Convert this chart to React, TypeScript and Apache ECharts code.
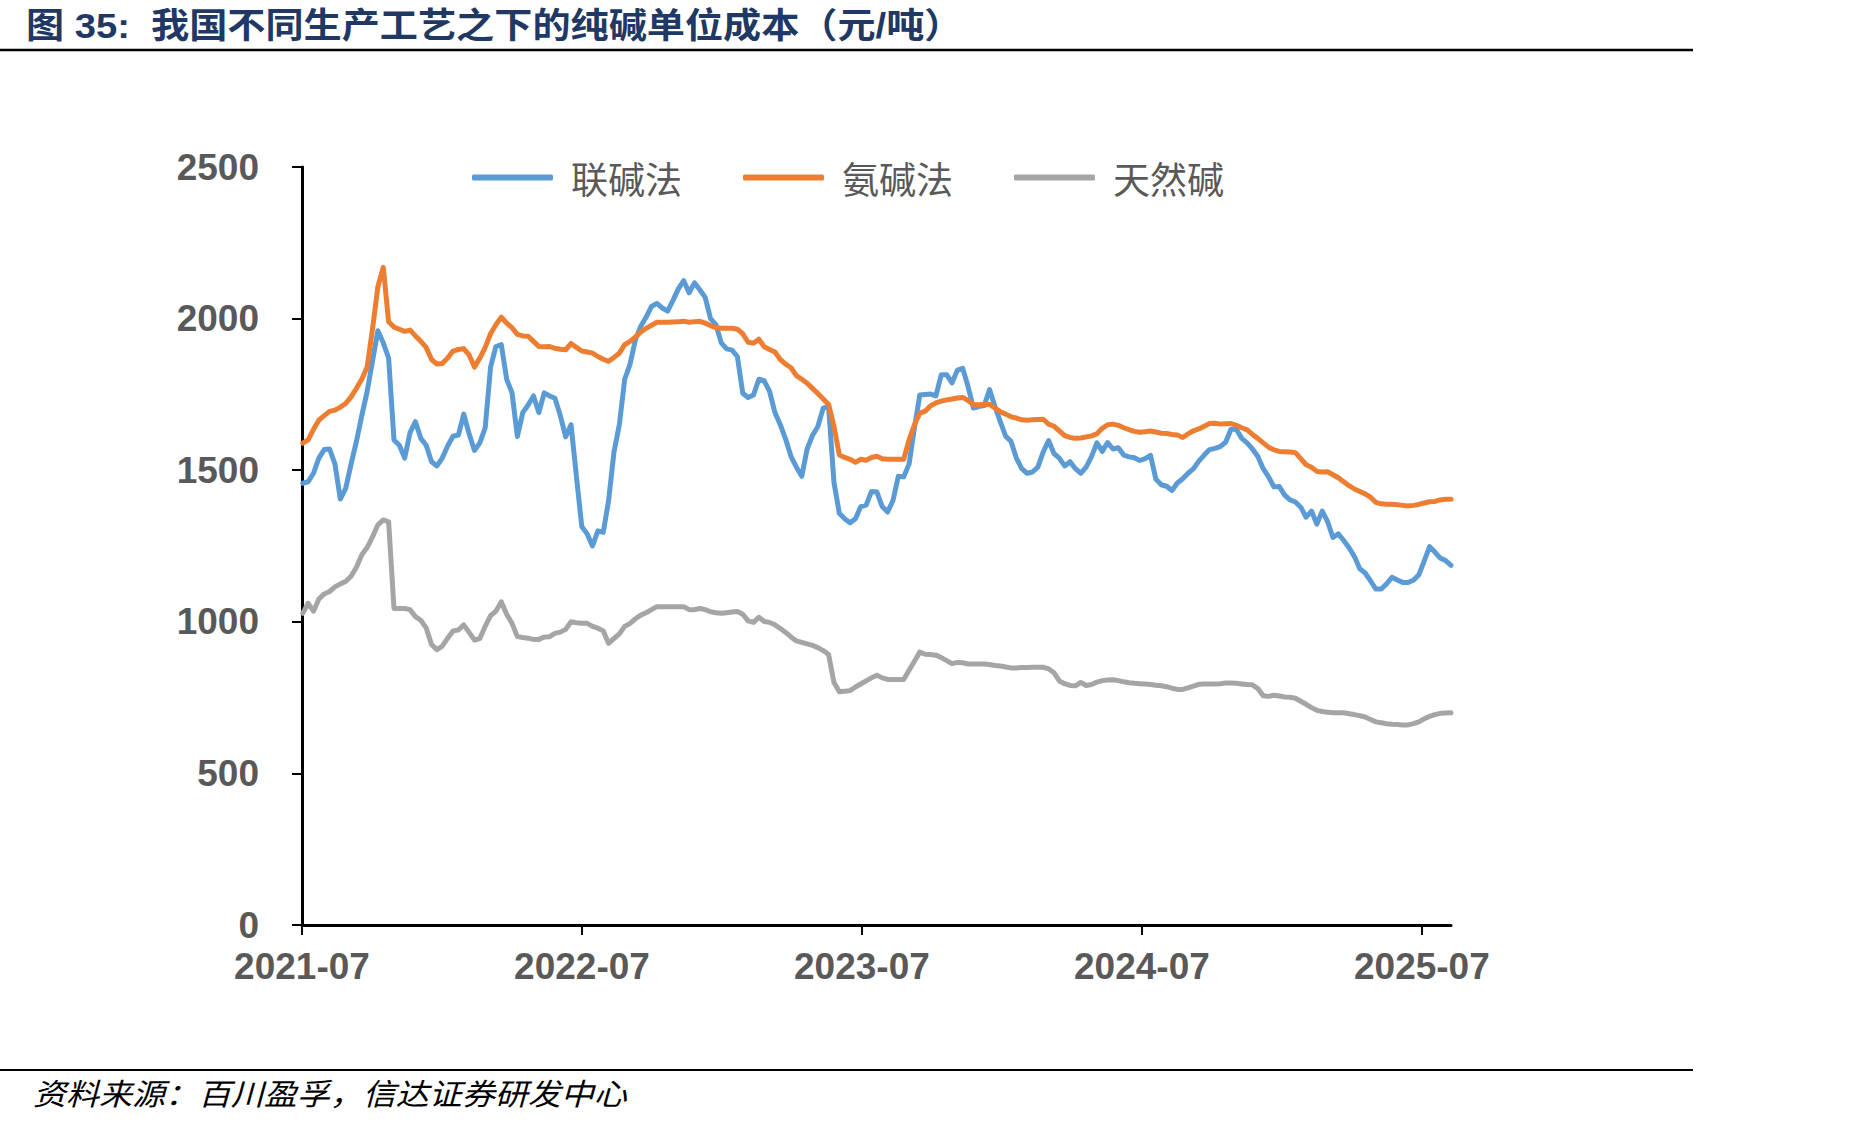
import React, { useEffect, useRef } from "react";
import * as echarts from "echarts";

// ---------- data ----------
const seriesNames = ["联碱法", "氨碱法", "天然碱"];
const seriesColors = ["#5B9BD5", "#ED7D31", "#A5A5A5"];
const firstWeek = "2021-07-02"; // first weekly observation
const axisOrigin = "2021-07-01";
const xTickLabels = ["2021-07", "2022-07", "2023-07", "2024-07", "2025-07"];
const yMax = 2500;
const yStep = 500;

// 联碱法 (weekly, 元/吨)
const lianjian = [
  1457, 1462, 1490, 1540, 1568, 1570, 1520, 1405, 1440, 1520,
  1595, 1680, 1760, 1860, 1960, 1920, 1870, 1600, 1582, 1540,
  1625, 1660, 1605, 1582, 1528, 1514, 1540, 1580, 1612, 1616,
  1685, 1620, 1565, 1590, 1640, 1840, 1908, 1914, 1800, 1755,
  1611, 1690, 1715, 1745, 1690, 1755, 1745, 1737, 1680, 1610,
  1650, 1480, 1314, 1290, 1250, 1300, 1295, 1400, 1560, 1650,
  1800, 1850, 1930, 1975, 2005, 2040, 2050, 2035, 2025, 2060,
  2098, 2125, 2085, 2118, 2095, 2070, 2000, 1980, 1920, 1900,
  1896, 1875, 1754, 1740, 1748, 1800, 1795, 1760, 1690, 1650,
  1602, 1545, 1510, 1480, 1570, 1615, 1644, 1705, 1710, 1460,
  1358, 1340, 1327, 1340, 1380, 1385, 1430, 1428, 1380, 1362,
  1400, 1480, 1478, 1520, 1640, 1748, 1750, 1751, 1745, 1815,
  1815, 1788, 1830, 1836, 1775, 1705, 1710, 1713, 1766, 1710,
  1660, 1612, 1595, 1540, 1505, 1490, 1494, 1510, 1560, 1598,
  1555, 1540, 1514, 1528, 1505, 1490, 1510, 1545, 1590, 1562,
  1591, 1570, 1574, 1550, 1544, 1541, 1532, 1538, 1549, 1470,
  1452, 1447, 1433, 1458, 1472, 1490, 1505, 1530, 1550, 1568,
  1572, 1578, 1592, 1635, 1635, 1605, 1590, 1570, 1545, 1505,
  1478, 1445, 1446, 1418, 1402, 1395, 1378, 1345, 1365, 1322,
  1365, 1330, 1278, 1290, 1268, 1244, 1215, 1175, 1161, 1135,
  1108, 1108, 1125, 1147, 1138, 1130, 1130, 1137, 1155, 1200,
  1248, 1230, 1210, 1202, 1186,
];

// 氨碱法
const anjian = [
  1589, 1600, 1635, 1665, 1680, 1694, 1698, 1708, 1720, 1742,
  1770, 1800, 1840, 1966, 2105, 2169, 1990, 1972, 1965, 1958,
  1962, 1943, 1925, 1905, 1865, 1850, 1852, 1870, 1893, 1898,
  1901, 1880, 1840, 1870, 1905, 1950, 1980, 2005, 1985, 1970,
  1948, 1943, 1942, 1925, 1908, 1907, 1908, 1902, 1899, 1897,
  1918, 1905, 1893, 1890, 1886, 1875, 1866, 1859, 1872, 1886,
  1914, 1925, 1940, 1956, 1968, 1978, 1988, 1988, 1988, 1989,
  1990, 1991, 1988, 1990, 1991, 1985, 1977, 1970, 1968, 1968,
  1968, 1965, 1950, 1922, 1919, 1932, 1907, 1898, 1890, 1865,
  1850, 1838, 1812, 1800, 1787, 1770, 1753, 1735, 1717, 1645,
  1550, 1542, 1536, 1526, 1536, 1533, 1542, 1546, 1538, 1536,
  1536, 1536, 1536, 1600, 1650, 1688, 1695, 1712, 1722, 1728,
  1732, 1735, 1738, 1740, 1730, 1716, 1716, 1717, 1717, 1705,
  1693, 1685, 1676, 1672, 1666, 1665, 1666, 1667, 1668, 1652,
  1645, 1630, 1614, 1608, 1605, 1606, 1610, 1613, 1620, 1638,
  1650, 1652, 1648, 1640, 1634, 1628, 1625, 1627, 1629, 1626,
  1622, 1621, 1618, 1616, 1608, 1620, 1630, 1636, 1645, 1654,
  1655, 1652, 1653, 1654, 1648, 1640, 1633, 1618, 1605, 1590,
  1576, 1567, 1562, 1561, 1560, 1558, 1538, 1518, 1510, 1496,
  1494, 1495, 1485, 1475, 1462, 1449, 1438, 1430, 1422, 1411,
  1394, 1389, 1388, 1388, 1386, 1384, 1382, 1384, 1387, 1392,
  1396, 1397, 1402, 1404, 1404,
];

// 天然碱
const tianran = [
  1028, 1061, 1035, 1075, 1092, 1100, 1115, 1125, 1133, 1150,
  1180, 1221, 1245, 1280, 1320, 1336, 1330, 1044, 1044, 1044,
  1040, 1017, 1005, 980, 925, 908, 920, 946, 970, 973,
  990, 965, 940, 945, 985, 1020, 1035, 1066, 1025, 995,
  951, 948, 946, 942, 942, 950, 951, 962, 966, 975,
  1000, 997, 995, 995, 985, 979, 970, 929, 945, 960,
  985, 995, 1010, 1022, 1030, 1040, 1050, 1050, 1050, 1050,
  1050, 1050, 1040, 1040, 1044, 1040, 1033, 1030, 1028, 1030,
  1032, 1034, 1025, 1003, 998, 1015, 1001, 998, 990, 978,
  965, 950, 937, 932, 927, 922, 915, 905, 892, 800,
  769, 771, 773, 785, 795, 805, 815, 824, 815, 810,
  810, 810, 810, 840, 870, 900, 893, 892, 890, 882,
  872, 862, 866, 865, 861, 861, 861, 861, 859, 856,
  854, 851, 848, 848, 849, 849, 850, 850, 850, 845,
  832, 805, 796, 790, 789, 800, 790, 793, 801, 806,
  808, 809, 806, 802, 799, 797, 796, 795, 793, 791,
  789, 786, 781, 777, 777, 782, 788, 794, 795, 795,
  795, 796, 798, 798, 797, 795, 793, 792, 780, 756,
  754, 758, 755, 752, 751, 748, 738, 728, 717, 708,
  704, 702, 700, 700, 700, 697, 694, 690, 686, 678,
  670, 667, 664, 662, 661, 660, 660, 664, 670, 680,
  688, 694, 698, 699, 700,
];

const titleText = "图 35:  我国不同生产工艺之下的纯碱单位成本（元/吨）";
const sourceText = "资料来源：百川盈孚，信达证券研发中心";

// ---------- helpers ----------
const DAY = 86400000;
const YEAR = 365.25 * DAY;
const weekDates = lianjian.map((_, i) =>
  new Date(Date.parse(firstWeek) + i * 7 * DAY).toISOString().slice(0, 10)
);
const xYears = weekDates.map((d) => (Date.parse(d) - Date.parse(axisOrigin)) / YEAR);
const toPairs = (vals: number[]) => vals.map((v, i) => [xYears[i], v]);
const valueSets = [lianjian, anjian, tianran];

const numFont = "'Liberation Sans', Arial, sans-serif";
const cjkFont = "'Liberation Sans', 'Noto Sans CJK SC', sans-serif";

export default function App() {
  const ref = useRef<HTMLDivElement>(null);

  useEffect(() => {
    document.body.style.margin = "0";
    document.body.style.overflow = "hidden";
    if (!ref.current) return;
    const chart = echarts.init(ref.current, undefined, { renderer: "svg" });

    const option: any = {
      animation: false,
      backgroundColor: "#ffffff",
      grid: { left: 302, right: 415, top: 167, bottom: 200, containLabel: false },
      legend: {
        show: true,
        left: 472,
        top: 159,
        padding: 0,
        itemWidth: 81,
        itemHeight: 6,
        itemGap: 61,
        icon: "roundRect",
        data: seriesNames,
        textStyle: {
          fontSize: 37,
          color: "#595959",
          fontFamily: "'Noto Sans CJK SC', sans-serif",
          padding: [0, 0, 0, 13],
        },
      },
      xAxis: {
        type: "value",
        min: 0,
        max: xYears[xYears.length - 1],
        axisLine: { show: true, onZero: false, lineStyle: { color: "#000000", width: 3 } },
        axisTick: {
          show: true,
          length: 10,
          inside: false,
          customValues: xTickLabels.map((_, i) => i),
          lineStyle: { color: "#000000", width: 2 },
        },
        axisLabel: {
          show: true,
          customValues: xTickLabels.map((_, i) => i),
          formatter: (v: number) => xTickLabels[Math.round(v)] ?? "",
          margin: 23,
          fontSize: 37,
          fontWeight: "bold",
          color: "#595959",
          fontFamily: numFont,
        },
        splitLine: { show: false },
      },
      yAxis: {
        type: "value",
        min: 0,
        max: yMax,
        interval: yStep,
        axisLine: { show: true, lineStyle: { color: "#000000", width: 3 } },
        axisTick: {
          show: true,
          length: 10,
          inside: false,
          lineStyle: { color: "#000000", width: 2 },
        },
        axisLabel: {
          show: true,
          margin: 43,
          fontSize: 37,
          fontWeight: "bold",
          color: "#595959",
          fontFamily: numFont,
          formatter: (v: number) => String(v),
        },
        splitLine: { show: false },
      },
      series: seriesNames.map((name, i) => ({
        name,
        type: "line",
        data: toPairs(valueSets[i]),
        showSymbol: false,
        symbol: "none",
        smooth: false,
        color: seriesColors[i],
        lineStyle: { color: seriesColors[i], width: 5, join: "round", cap: "round" },
        emphasis: { disabled: true },
        z: 2 + i,
      })),
      graphic: [
        {
          type: "text",
          x: 26,
          y: 26,
          scaleX: 1.09,
          style: {
            text: titleText,
            fontSize: 35,
            fontWeight: "bold",
            fontFamily: cjkFont,
            fill: "#1F3864",
            verticalAlign: "middle",
            align: "left",
          },
        },
        {
          type: "line",
          shape: { x1: 0, y1: 50, x2: 1693, y2: 50 },
          style: { stroke: "#000000", lineWidth: 2.5 },
        },
        {
          type: "line",
          shape: { x1: 0, y1: 1070, x2: 1693, y2: 1070 },
          style: { stroke: "#000000", lineWidth: 2 },
        },
        {
          type: "text",
          x: 33,
          y: 1092,
          scaleX: 1.1,
          style: {
            text: sourceText,
            fontSize: 30,
            fontStyle: "italic",
            fontFamily: "'Noto Sans CJK SC', sans-serif",
            fill: "#000000",
            verticalAlign: "middle",
            align: "left",
          },
        },
      ],
    };

    chart.setOption(option);
    return () => {
      chart.dispose();
    };
  }, []);

  return (
    <div
      ref={ref}
      style={{ position: "absolute", left: 0, top: 0, width: 1866, height: 1125 }}
    />
  );
}
